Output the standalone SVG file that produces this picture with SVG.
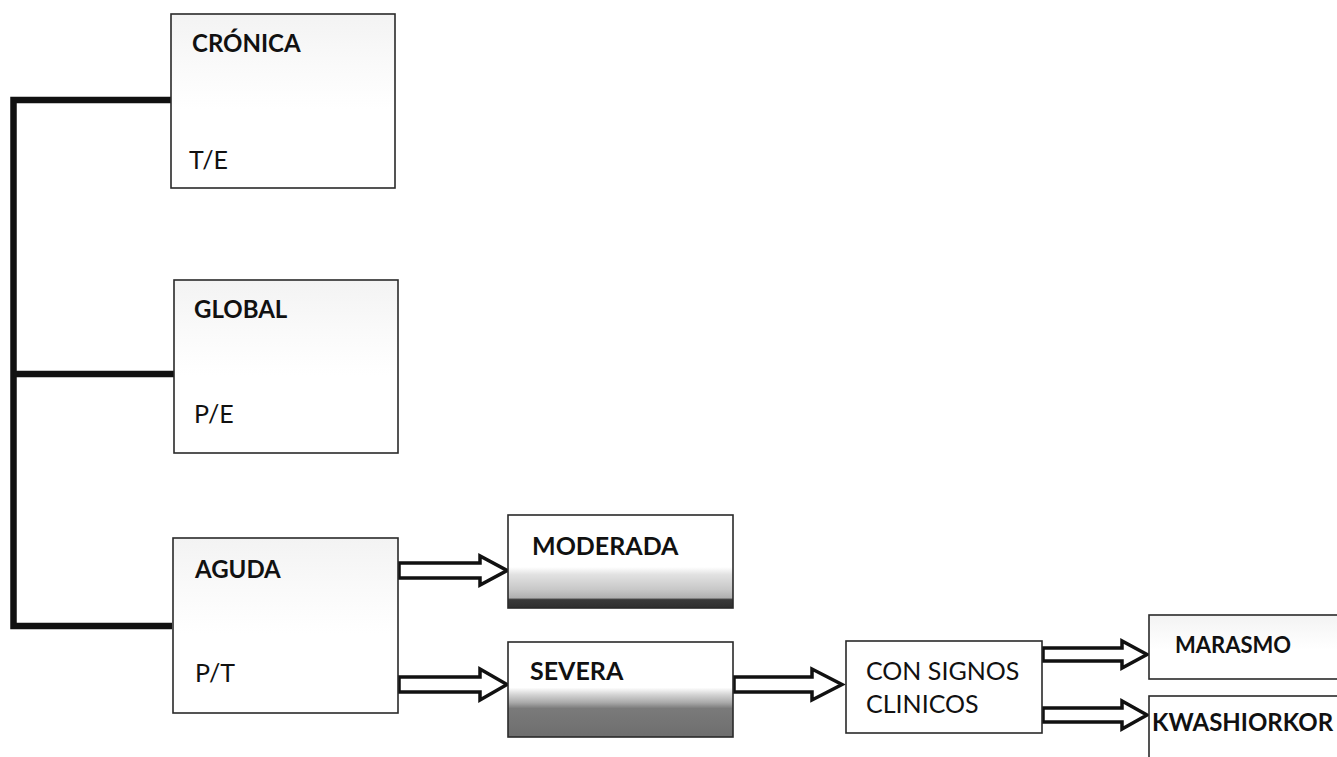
<svg xmlns="http://www.w3.org/2000/svg" width="1337" height="757" viewBox="0 0 1337 757">
<defs>
<linearGradient id="gMod" x1="0" y1="0" x2="0" y2="1">
<stop offset="0" stop-color="#ffffff"/>
<stop offset="0.56" stop-color="#ffffff"/>
<stop offset="0.64" stop-color="#e2e2e2"/>
<stop offset="0.8" stop-color="#c8c8c8"/>
<stop offset="0.89" stop-color="#b0b0b0"/>
<stop offset="0.91" stop-color="#3a3a3a"/>
<stop offset="1" stop-color="#2e2e2e"/>
</linearGradient>
<linearGradient id="gSev" x1="0" y1="0" x2="0" y2="1">
<stop offset="0" stop-color="#ffffff"/>
<stop offset="0.48" stop-color="#ffffff"/>
<stop offset="0.55" stop-color="#d6d6d6"/>
<stop offset="0.64" stop-color="#a8a8a8"/>
<stop offset="0.7" stop-color="#7a7a7a"/>
<stop offset="1" stop-color="#6e6e6e"/>
</linearGradient>
<linearGradient id="gTop" x1="0" y1="0" x2="0" y2="1">
<stop offset="0" stop-color="#f3f3f3"/>
<stop offset="0.3" stop-color="#fafafa"/>
<stop offset="0.55" stop-color="#ffffff"/>
</linearGradient>
</defs>
<style>
.box{stroke:#2a2a2a;stroke-width:1.6;fill:#fff}
.t{font-family:Lato,"Open Sans",sans-serif;font-size:25px;fill:#111}
.b{font-weight:bold}
.arr{fill:#fff;stroke:#111;stroke-width:3.5;stroke-linejoin:miter}
.br{stroke:#111;stroke-width:6.5;fill:none}
</style>
<rect width="1337" height="757" fill="#fff"/>
<g id="connectors">
<path class="br" d="M172,100 H13.5 V626 H172"/>
<path class="br" d="M13.5,374 H174"/>
<path class="arr" d="M399,563 H480 V556 L507,570.5 L480,585 V578 H399 Z"/>
<path class="arr" d="M399,677 H480 V669 L507,684.5 L480,700 V692 H399 Z"/>
<path class="arr" d="M734,677 H812 V669 L842,684.5 L812,700 V692 H734 Z"/>
<path class="arr" d="M1043,648 H1122 V641 L1147,654.5 L1122,668 V661 H1043 Z"/>
<path class="arr" d="M1043,708 H1122 V701 L1147,715 L1122,729 V722 H1043 Z"/>
</g>
<g id="cronica">
<rect class="box" x="171" y="14" width="224" height="174" style="fill:url(#gTop)"/>
<text class="t b" x="192" y="52" style="font-size:24px">CRÓNICA</text>
<text class="t" x="189" y="169">T/E</text>
</g>
<g id="global">
<rect class="box" x="174" y="280" width="224" height="173" style="fill:url(#gTop)"/>
<text class="t b" x="194" y="318" style="font-size:24px">GLOBAL</text>
<text class="t" x="194" y="423">P/E</text>
</g>
<g id="aguda">
<rect class="box" x="173" y="538" width="225" height="175" style="fill:url(#gTop)"/>
<text class="t b" x="195" y="578" style="font-size:24px">AGUDA</text>
<text class="t" x="195" y="682">P/T</text>
</g>
<g id="moderada">
<rect class="box" x="508" y="515" width="225" height="93" style="fill:url(#gMod)"/>
<text class="t b" x="532" y="555">MODERADA</text>
</g>
<g id="severa">
<rect class="box" x="508" y="642" width="225" height="95" style="fill:url(#gSev)"/>
<text class="t b" x="530" y="680">SEVERA</text>
</g>
<g id="con-signos">
<rect class="box" x="846" y="641" width="196" height="92"/>
<text class="t" x="866" y="680">CON SIGNOS</text>
<text class="t" x="866" y="713">CLINICOS</text>
</g>
<g id="marasmo">
<rect class="box" x="1149" y="615" width="200" height="64" style="fill:url(#gTop)"/>
<text class="t b" x="1175" y="653" style="font-size:22px">MARASMO</text>
</g>
<g id="kwashiorkor">
<rect class="box" x="1149" y="696" width="200" height="80"/>
<text class="t b" x="1152" y="731" style="font-size:24px">KWASHIORKOR</text>
</g>
</svg>
